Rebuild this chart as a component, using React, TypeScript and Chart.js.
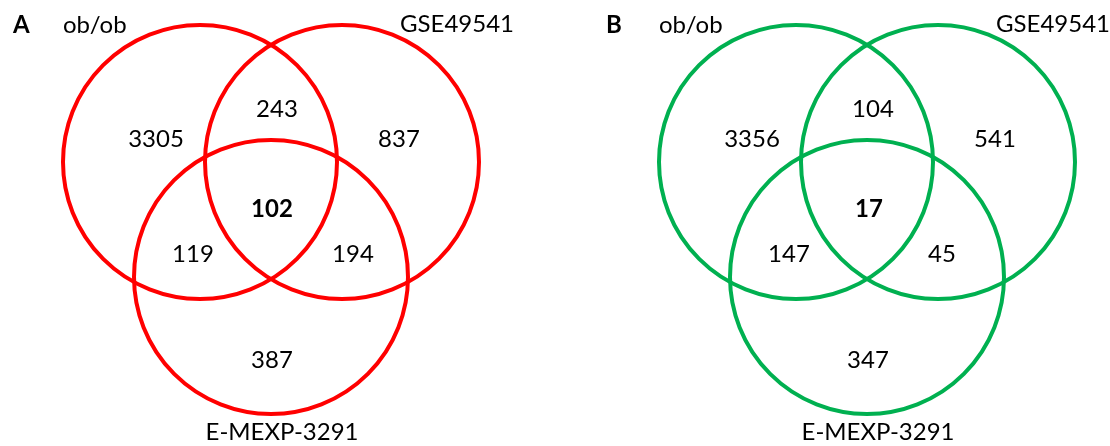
import React, { useEffect, useRef } from 'react';
import { Chart, registerables } from 'chart.js';

Chart.register(...registerables);

const WIDTH = 1110;
const HEIGHT = 446;

// Panels
const panelLetters = ['A', 'B'];
const panelOffsetX = [0, 596];
const circleColors = ['#FF0000', '#00B050'];

// Sets (circles): ob/ob, GSE49541, E-MEXP-3291
const setNames = ['ob/ob', 'GSE49541', 'E-MEXP-3291'];
const circleX = [200, 342, 271];
const circleY = [162, 162, 277];
const circleR = 137;

// Region counts: only ob/ob, only GSE49541, only E-MEXP-3291,
// ob/ob∩GSE, ob/ob∩E-MEXP, GSE∩E-MEXP, all three
const countsA = [3305, 837, 387, 243, 119, 194, 102];
const countsB = [3356, 541, 347, 104, 147, 45, 17];

// Region label anchors (centre x, baseline y) within a panel
const regionXA = [156, 399, 272, 277, 193, 353, 272];
const regionXB = [156, 399, 272, 277, 193, 346, 273];
const regionY = [147, 147, 368, 117, 262, 262, 217];

// Set name anchors
const nameX = [63, 514, 282];
const nameY = [33, 32, 440];
const nameAlign = ['left', 'right', 'center'];
const letterX = [13, 10];
const letterY = 33;

const FONT = '24px Lato, "Open Sans", sans-serif';
const FONT_BOLD = 'bold 24px Lato, "Open Sans", sans-serif';

const textPlugin = {
  id: 'vennText',
  afterDatasetsDraw(chart: any) {
    const ctx = chart.ctx;
    chart.data.datasets.forEach((ds: any, i: number) => {
      if (!ds.texts) return;
      const meta = chart.getDatasetMeta(i);
      ctx.save();
      meta.data.forEach((el: any, j: number) => {
        ctx.font = ds.fonts[j];
        ctx.fillStyle = '#000000';
        ctx.textAlign = ds.aligns[j];
        ctx.textBaseline = 'alphabetic';
        ctx.fillText(ds.texts[j], el.x, el.y);
      });
      ctx.restore();
    });
  },
};

function buildDatasets() {
  const datasets: any[] = [];
  [countsA, countsB].forEach((counts, p) => {
    const ox = panelOffsetX[p];
    const regionX = p === 0 ? regionXA : regionXB;
    // circles
    datasets.push({
      label: `circles-${panelLetters[p]}`,
      data: circleX.map((x, k) => ({ x: x + ox, y: circleY[k] })),
      pointRadius: (c: any) => {
        const s = c.chart.scales.x;
        return s.getPixelForValue(circleR) - s.getPixelForValue(0);
      },
      pointBorderWidth: 4,
      pointBorderColor: circleColors[p],
      pointBackgroundColor: 'rgba(0,0,0,0)',
      pointHoverRadius: 0,
    });
    // region counts
    datasets.push({
      label: `counts-${panelLetters[p]}`,
      data: counts.map((_, k) => ({ x: regionX[k] + ox, y: regionY[k] })),
      pointRadius: 0,
      texts: counts.map((v) => String(v)),
      fonts: counts.map((_, k) => (k === counts.length - 1 ? FONT_BOLD : FONT)),
      aligns: counts.map(() => 'center'),
    });
    // set names + panel letter
    datasets.push({
      label: `names-${panelLetters[p]}`,
      data: [
        ...setNames.map((_, k) => ({ x: nameX[k] + ox, y: nameY[k] })),
        { x: letterX[p] + ox, y: letterY },
      ],
      pointRadius: 0,
      texts: [...setNames, panelLetters[p]],
      fonts: [FONT, FONT, FONT, FONT_BOLD],
      aligns: [...nameAlign, 'left'],
    });
  });
  return datasets;
}

export default function App() {
  const canvasRef = useRef<HTMLCanvasElement | null>(null);

  useEffect(() => {
    if (!canvasRef.current) return;
    const chart = new Chart(canvasRef.current, {
      type: 'scatter',
      data: { datasets: buildDatasets() },
      options: {
        responsive: false,
        animation: false,
        events: [],
        layout: { padding: 0 },
        plugins: {
          legend: { display: false },
          tooltip: { enabled: false },
        },
        scales: {
          x: { type: 'linear', min: 0, max: WIDTH, display: false },
          y: { type: 'linear', min: 0, max: HEIGHT, reverse: true, display: false },
        },
      },
      plugins: [textPlugin],
    } as any);
    return () => chart.destroy();
  }, []);

  return (
    <div style={{ position: 'absolute', left: 0, top: 0, width: WIDTH, height: HEIGHT, background: '#ffffff' }}>
      <canvas ref={canvasRef} width={WIDTH} height={HEIGHT} style={{ display: 'block' }} />
    </div>
  );
}
